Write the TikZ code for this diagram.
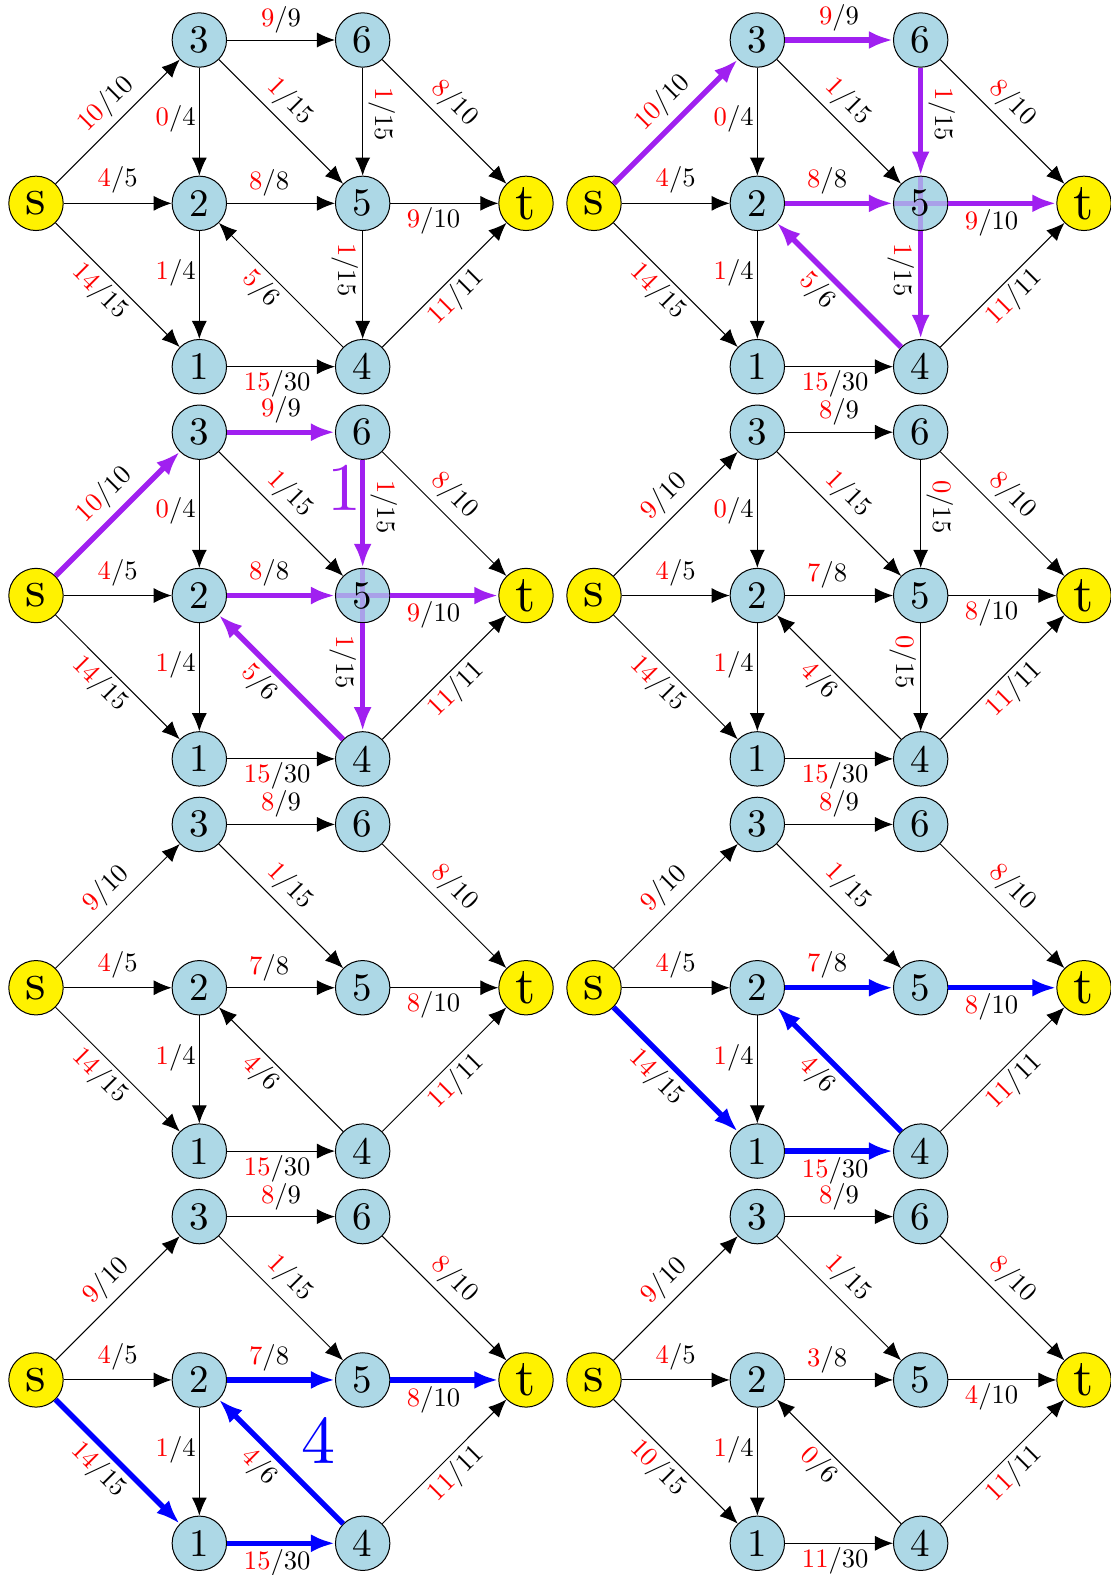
\documentclass[tikz,border=0pt]{standalone}
\usepackage{fontspec}
\setmainfont{lmroman10-regular}[Extension=.otf]
\usetikzlibrary{arrows.meta}
\definecolor{purp}{RGB}{160,32,240}
\definecolor{lblue}{RGB}{173,216,230}
% flow / capacity label: flow in red
\newcommand\fl[2]{\textcolor{red}{#1}/#2}
% the eight vertices of one flow network, names prefixed by #2
\newcommand\placenodes[2][]{%
  \node[tnode] (#2-s) at (36,203.33) {s};
  \node[vnode] (#2-3) at (199.33,40) {3};
  \node[vnode] (#2-2) at (199.33,203.33) {2};
  \node[vnode] (#2-1) at (199.33,366.67) {1};
  \node[vnode] (#2-6) at (362.67,40) {6};
  \node[vnode,#1] (#2-5) at (362.67,203.33) {5};
  \node[vnode] (#2-4) at (362.67,366.67) {4};
  \node[tnode] (#2-t) at (526,203.33) {t};}
% one arc: network, tail, head, line style, flow, capacity
\newcommand\E[6]{\draw[#4] (#1-#2) -- node[P#2#3] {\fl{#5}{#6}} (#1-#3);}
\begin{document}
\begin{tikzpicture}[x=0.5pt,y=-0.5pt,
  vnode/.style={circle,draw,line width=0.5pt,fill=lblue,minimum size=27.2pt,inner sep=0pt,
    font=\fontsize{19.5}{21}\selectfont},
  tnode/.style={vnode,fill=yellow,font=\fontsize{26}{28}\selectfont},
  edge/.style={line width=0.5pt,-{Latex[length=9pt,width=7.5pt]}},
  hp/.style={line width=2.7pt,draw=purp,-{Latex[length=12pt,width=9pt]}},
  hb/.style={line width=2.7pt,draw=blue,-{Latex[length=12pt,width=9pt]}},
  xing/.style={path picture={\draw[draw=purp,draw opacity=.3,line width=2.7pt]
    (path picture bounding box.west) -- (path picture bounding box.east)
    (path picture bounding box.north) -- (path picture bounding box.south);}},
  lab/.style={font=\fontsize{13.3}{15}\selectfont},
  ab/.style={lab,sloped,above,inner sep=3.2pt},
  bl/.style={lab,sloped,below,inner sep=1.8pt},
  lf/.style={lab,left,inner sep=1.6pt},
  vr/.style={lab,rotate=-90,anchor=south,inner sep=2.8pt},
  vl/.style={lab,rotate=-90,anchor=north,inner sep=1.7pt},
  Ps3/.style={ab,pos=.524},
  Ps2/.style={ab,pos=.5,inner sep=4.6pt},
  Ps1/.style={bl,pos=.455},
  P36/.style={ab,pos=.5},
  P32/.style={lf,pos=.47},
  P35/.style={ab,pos=.456},
  P65/.style={vr,pos=.434},
  P6t/.style={ab,pos=.466},
  P25/.style={ab,pos=.39},
  P21/.style={lf,pos=.39},
  P5t/.style={bl,pos=.4},
  P54/.style={vl,pos=.36},
  P42/.style={bl,pos=.566},
  P14/.style={bl,pos=.465},
  P4t/.style={bl,pos=.5},
  big/.style={font=\fontsize{34}{36}\selectfont,inner sep=0pt}]
\useasboundingbox (0,0) rectangle (1110,1575);

% ---------- network A ----------
\begin{scope}[shift={(0,0)}]\placenodes{A}\end{scope}
\E{A}{s}{3}{edge}{10}{10}
\E{A}{s}{2}{edge}{4}{5}
\E{A}{s}{1}{edge}{14}{15}
\E{A}{3}{6}{edge}{9}{9}
\E{A}{3}{2}{edge}{0}{4}
\E{A}{3}{5}{edge}{1}{15}
\E{A}{6}{5}{edge}{1}{15}
\E{A}{6}{t}{edge}{8}{10}
\E{A}{2}{5}{edge}{8}{8}
\E{A}{2}{1}{edge}{1}{4}
\E{A}{5}{t}{edge}{9}{10}
\E{A}{5}{4}{edge}{1}{15}
\E{A}{4}{2}{edge}{5}{6}
\E{A}{1}{4}{edge}{15}{30}
\E{A}{4}{t}{edge}{11}{11}

% ---------- network B: augmenting path in purple ----------
\begin{scope}[shift={(558,0)}]\placenodes[xing]{B}\end{scope}
\E{B}{s}{3}{hp}{10}{10}
\E{B}{s}{2}{edge}{4}{5}
\E{B}{s}{1}{edge}{14}{15}
\E{B}{3}{6}{hp}{9}{9}
\E{B}{3}{2}{edge}{0}{4}
\E{B}{3}{5}{edge}{1}{15}
\E{B}{6}{5}{hp}{1}{15}
\E{B}{6}{t}{edge}{8}{10}
\E{B}{2}{5}{hp}{8}{8}
\E{B}{2}{1}{edge}{1}{4}
\E{B}{5}{t}{hp}{9}{10}
\E{B}{5}{4}{hp}{1}{15}
\E{B}{4}{2}{hp}{5}{6}
\E{B}{1}{4}{edge}{15}{30}
\E{B}{4}{t}{edge}{11}{11}

% ---------- network C: same path, bottleneck 1 ----------
\begin{scope}[shift={(0,392.2)}]\placenodes[xing]{C}\end{scope}
\E{C}{s}{3}{hp}{10}{10}
\E{C}{s}{2}{edge}{4}{5}
\E{C}{s}{1}{edge}{14}{15}
\E{C}{3}{6}{hp}{9}{9}
\E{C}{3}{2}{edge}{0}{4}
\E{C}{3}{5}{edge}{1}{15}
\E{C}{6}{5}{hp}{1}{15}
\E{C}{6}{t}{edge}{8}{10}
\E{C}{2}{5}{hp}{8}{8}
\E{C}{2}{1}{edge}{1}{4}
\E{C}{5}{t}{hp}{9}{10}
\E{C}{5}{4}{hp}{1}{15}
\E{C}{4}{2}{hp}{5}{6}
\E{C}{1}{4}{edge}{15}{30}
\E{C}{4}{t}{edge}{11}{11}
\node[big,text=purp] (bn1) at (344.7,488.3) {1};

% ---------- network D ----------
\begin{scope}[shift={(558,392.2)}]\placenodes{D}\end{scope}
\E{D}{s}{3}{edge}{9}{10}
\E{D}{s}{2}{edge}{4}{5}
\E{D}{s}{1}{edge}{14}{15}
\E{D}{3}{6}{edge}{8}{9}
\E{D}{3}{2}{edge}{0}{4}
\E{D}{3}{5}{edge}{1}{15}
\E{D}{6}{5}{edge}{0}{15}
\E{D}{6}{t}{edge}{8}{10}
\E{D}{2}{5}{edge}{7}{8}
\E{D}{2}{1}{edge}{1}{4}
\E{D}{5}{t}{edge}{8}{10}
\E{D}{5}{4}{edge}{0}{15}
\E{D}{4}{2}{edge}{4}{6}
\E{D}{1}{4}{edge}{15}{30}
\E{D}{4}{t}{edge}{11}{11}

% ---------- network E: empty arcs removed ----------
\begin{scope}[shift={(0,784.4)}]\placenodes{E}\end{scope}
\E{E}{s}{3}{edge}{9}{10}
\E{E}{s}{2}{edge}{4}{5}
\E{E}{s}{1}{edge}{14}{15}
\E{E}{3}{6}{edge}{8}{9}
\E{E}{3}{5}{edge}{1}{15}
\E{E}{6}{t}{edge}{8}{10}
\E{E}{2}{5}{edge}{7}{8}
\E{E}{2}{1}{edge}{1}{4}
\E{E}{5}{t}{edge}{8}{10}
\E{E}{4}{2}{edge}{4}{6}
\E{E}{1}{4}{edge}{15}{30}
\E{E}{4}{t}{edge}{11}{11}

% ---------- network F: augmenting path in blue ----------
\begin{scope}[shift={(558,784.4)}]\placenodes{F}\end{scope}
\E{F}{s}{3}{edge}{9}{10}
\E{F}{s}{2}{edge}{4}{5}
\E{F}{s}{1}{hb}{14}{15}
\E{F}{3}{6}{edge}{8}{9}
\E{F}{3}{5}{edge}{1}{15}
\E{F}{6}{t}{edge}{8}{10}
\E{F}{2}{5}{hb}{7}{8}
\E{F}{2}{1}{edge}{1}{4}
\E{F}{5}{t}{hb}{8}{10}
\E{F}{4}{2}{hb}{4}{6}
\E{F}{1}{4}{hb}{15}{30}
\E{F}{4}{t}{edge}{11}{11}

% ---------- network G: same path, bottleneck 4 ----------
\begin{scope}[shift={(0,1176.6)}]\placenodes{G}\end{scope}
\E{G}{s}{3}{edge}{9}{10}
\E{G}{s}{2}{edge}{4}{5}
\E{G}{s}{1}{hb}{14}{15}
\E{G}{3}{6}{edge}{8}{9}
\E{G}{3}{5}{edge}{1}{15}
\E{G}{6}{t}{edge}{8}{10}
\E{G}{2}{5}{hb}{7}{8}
\E{G}{2}{1}{edge}{1}{4}
\E{G}{5}{t}{hb}{8}{10}
\E{G}{4}{2}{hb}{4}{6}
\E{G}{1}{4}{hb}{15}{30}
\E{G}{4}{t}{edge}{11}{11}
\node[big,text=blue] (bn4) at (318.3,1440.7) {4};

% ---------- network H ----------
\begin{scope}[shift={(558,1176.6)}]\placenodes{H}\end{scope}
\E{H}{s}{3}{edge}{9}{10}
\E{H}{s}{2}{edge}{4}{5}
\E{H}{s}{1}{edge}{10}{15}
\E{H}{3}{6}{edge}{8}{9}
\E{H}{3}{5}{edge}{1}{15}
\E{H}{6}{t}{edge}{8}{10}
\E{H}{2}{5}{edge}{3}{8}
\E{H}{2}{1}{edge}{1}{4}
\E{H}{5}{t}{edge}{4}{10}
\E{H}{4}{2}{edge}{0}{6}
\E{H}{1}{4}{edge}{11}{30}
\E{H}{4}{t}{edge}{11}{11}
\end{tikzpicture}
\end{document}
